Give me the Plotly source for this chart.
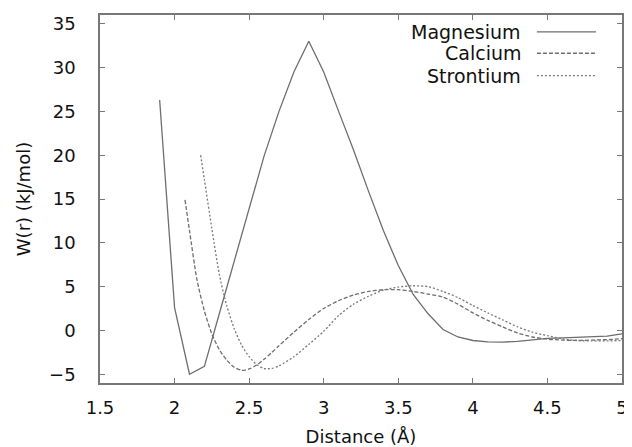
import plotly.graph_objects as go

# --- data ---
mg_x = [1.9, 2.0, 2.1, 2.2, 2.3, 2.4, 2.5, 2.6, 2.7, 2.8, 2.9, 3.0, 3.1, 3.2, 3.3, 3.4, 3.5, 3.6,
        3.7, 3.8, 3.9, 4.0, 4.1, 4.2, 4.3, 4.4, 4.5, 4.6, 4.7, 4.8, 4.9, 5.0]
mg_y = [26.3, 2.6, -5.0, -4.1, 1.9, 7.9, 13.9, 19.9, 25.0, 29.5, 33.0, 29.5, 25.0, 20.6, 15.9, 11.4,
        7.4, 4.1, 1.9, 0.1, -0.75, -1.15, -1.3, -1.33, -1.25, -1.05, -0.9, -0.85, -0.8, -0.75, -0.65, -0.4]

ca_x = [2.07, 2.1, 2.15, 2.2, 2.25, 2.3, 2.35, 2.4, 2.45, 2.5, 2.55, 2.6, 2.65, 2.7, 2.8, 2.9, 3.0,
        3.1, 3.2, 3.3, 3.4, 3.5, 3.6, 3.7, 3.8, 3.9, 4.0, 4.1, 4.2, 4.3, 4.4, 4.5, 4.6, 4.7, 4.8, 4.9, 5.0]
ca_y = [14.9, 11.4, 5.8, 2.2, -0.4, -2.2, -3.4, -4.2, -4.55, -4.4, -3.95, -3.3, -2.55, -1.75, -0.2,
        1.25, 2.5, 3.4, 4.05, 4.45, 4.65, 4.65, 4.45, 4.15, 3.8, 3.0, 2.0, 1.15, 0.4, -0.3, -0.75,
        -1.0, -1.1, -1.15, -1.1, -1.05, -0.95]

sr_x = [2.175, 2.2, 2.25, 2.3, 2.35, 2.4, 2.45, 2.5, 2.55, 2.6, 2.65, 2.7, 2.8, 2.9, 3.0, 3.1, 3.2,
        3.3, 3.4, 3.5, 3.6, 3.7, 3.8, 3.9, 4.0, 4.1, 4.2, 4.3, 4.4, 4.5, 4.6, 4.7, 4.8, 4.9, 5.0]
sr_y = [20.0, 17.2, 11.6, 6.4, 2.8, 0.2, -1.7, -3.0, -3.9, -4.35, -4.35, -4.05, -3.0, -1.6, -0.1,
        1.7, 3.0, 3.9, 4.6, 4.95, 5.1, 5.0, 4.45, 3.75, 2.85, 2.0, 1.2, 0.4, -0.2, -0.6, -0.95,
        -1.15, -1.2, -1.2, -1.15]

series_names = ["Magnesium", "Calcium", "Strontium"]
x_ticks = [1.5, 2, 2.5, 3, 3.5, 4, 4.5, 5]
y_ticks = [-5, 0, 5, 10, 15, 20, 25, 30, 35]

# --- styles ---
styles = [dict(color="#6e6e6e", width=1.3, dash="solid"),
          dict(color="#6e6e6e", width=1.3, dash="4px,2px"),
          dict(color="#7a7a7a", width=1.3, dash="2px,2px")]

FONT = "DejaVu Sans, Liberation Sans, sans-serif"
FS = 18

fig = go.Figure()
for name, xs, ys, st, shape in zip(series_names, [mg_x, ca_x, sr_x], [mg_y, ca_y, sr_y], styles,
                                   ["linear", "spline", "spline"]):
    fig.add_trace(go.Scatter(x=xs, y=ys, mode="lines", name=name, showlegend=False,
                             line=dict(color=st["color"], width=st["width"], dash=st["dash"],
                                       shape=shape, smoothing=0.6)))

# manual gnuplot-style legend (text right, sample at right)
leg_y = [0.954, 0.896, 0.835]
for name, st, yy in zip(series_names, styles, leg_y):
    fig.add_annotation(xref="paper", yref="paper", x=0.81, y=yy, text=name, showarrow=False,
                       xanchor="right", yanchor="middle", font=dict(family=FONT, size=FS + 1, color="#111"))
    fig.add_shape(type="line", xref="paper", yref="paper", x0=0.837, x1=0.95, y0=yy, y1=yy,
                  line=dict(color=st["color"], width=st["width"], dash=st["dash"]))

axis_common = dict(showgrid=False, zeroline=False, showline=True, linecolor="#777", linewidth=1.5,
                   mirror="allticks", ticks="inside", ticklen=5, tickcolor="#777", tickwidth=1.2,
                   automargin=False, tickfont=dict(family=FONT, size=FS, color="#111"))

fig.update_xaxes(range=[1.5, 5], tickvals=x_ticks, ticktext=[f"{v:g}" for v in x_ticks],
                 ticklabelstandoff=8,
                 title=dict(text="Distance (Å)", font=dict(family=FONT, size=FS, color="#111"), standoff=22),
                 **axis_common)
fig.update_yaxes(range=[-6, 36], tickvals=y_ticks, ticklabelstandoff=19,
                 title=dict(text="W(r) (kJ/mol)", font=dict(family=FONT, size=FS, color="#111"), standoff=14),
                 **axis_common)

fig.update_layout(width=624, height=439, margin=dict(l=92, r=10, t=7, b=64),
                  paper_bgcolor="white", plot_bgcolor="white", showlegend=False)

fig.write_html("out.html")
